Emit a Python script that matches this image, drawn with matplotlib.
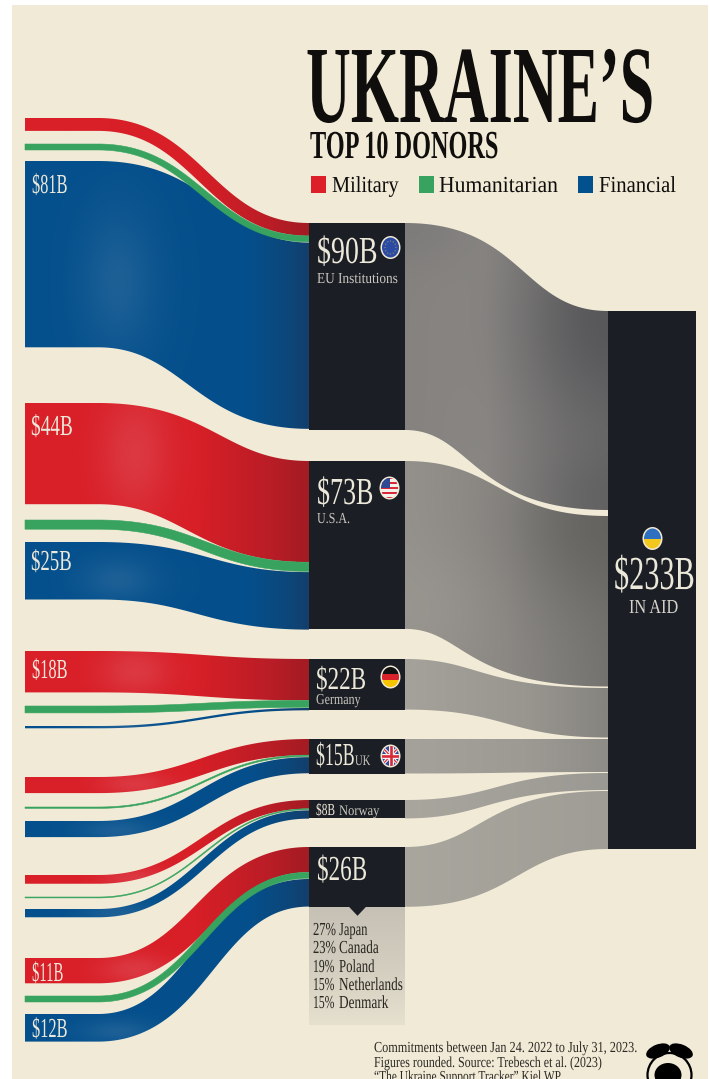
import numpy as np
import matplotlib
matplotlib.use('Agg')
import matplotlib.pyplot as plt
from matplotlib.colors import LinearSegmentedColormap, to_rgb
from matplotlib.font_manager import FontProperties
from matplotlib.patches import Ellipse, PathPatch, Polygon, Rectangle
from matplotlib.path import Path
from matplotlib.patheffects import AbstractPathEffect
from matplotlib.text import Text
from matplotlib.textpath import TextPath
from matplotlib.transforms import Affine2D, Bbox

# values in $B
donors = ["EU Institutions", "U.S.A.", "Germany", "UK", "Norway", "Others"]
totals = [90, 73, 22, 15, 8, 26]
military = [5.6, 44, 18, 7, 3.8, 11]
humanitarian = [2.6, 4, 3, 0.6, 0.4, 2.6]
financial = [81, 25, 1, 7, 3.6, 12]
grand_total = 233
others_names = ["Japan", "Canada", "Poland", "Netherlands", "Denmark"]
others_share = [27, 23, 19, 15, 15]

# layout, in pixels of the 710x1079 picture
PX_PER_B = 2.3
box_tops = [223, 461, 659, 739, 800, 847]
red_tops = [118, 403, 651, 777, 875, 958]
green_tops = [144, 520, 706, 807, 897, 996]
blue_tops = [161, 542, 726, 821, 909, 1014]
sink_tops = [311, 516, 688, 739, 773, 791]
sink_bottoms = [510, 686.5, 737.5, 772, 790, 849]
# sideways shift of the grey edges' bends
sink_lean_top = [16, -8, -28, 0, -10, -25]
sink_lean_bot = [-35, -43, 0, 0, -20, 10]

BG = '#f1ead7'
BOX = '#1b1e24'
INK = '#0f0e0c'
PALE = '#ece8da'
RED = '#dd1f2a'
GREEN = '#38a35f'
BLUE = '#03508f'
CAP_RATIO = 0.655

red_stops = [(0, '#da1f28'), (.6, '#d81f27'), (.88, '#b81d26'), (1, '#a31b23')]
blue_stops = [(0, '#04508d'), (.8, '#054f8b'), (.95, '#0e4577'), (1, '#123f6c')]
grey_stops = [
    [(0, '#85827f'), (.4, '#8a8784'), (1, '#727170')],
    [(0, '#94918c'), (.5, '#8b8884'), (1, '#747370')],
    [(0, '#a5a29b'), (.6, '#999690'), (1, '#86847f')],
    [(0, '#a5a29b'), (.6, '#9d9a94'), (1, '#8f8d88')],
    [(0, '#a9a69e'), (1, '#9b9993')],
    [(0, '#a9a69e'), (1, '#a09d96')],
]
grey_shades = [
    [(612, 320, 85, 110, '#58585b', 1.0), (612, 500, 70, 60, '#5f5f60', .8), (410, 225, 60, 40, '#7b7a79', .7)],
    [(612, 525, 90, 80, '#63625f', .9), (410, 610, 70, 60, '#9a9791', .7)],
    [], [], [], [],
]


class Squeeze(AbstractPathEffect):
    # the reference uses a condensed didone, so narrow the glyphs when drawn
    def __init__(self, sx):
        super().__init__()
        self.sx = sx

    def draw_path(self, renderer, gc, tpath, affine, rgbFace=None):
        renderer.draw_path(gc, tpath, Affine2D().scale(self.sx, 1) + affine, rgbFace)


class SqueezedText(Text):
    # reports the narrowed box, not the natural one
    def __init__(self, *args, sx=1.0, **kwargs):
        super().__init__(*args, **kwargs)
        self.sx = sx
        self.set_path_effects([Squeeze(sx)])

    def get_window_extent(self, renderer=None, dpi=None):
        bb = super().get_window_extent(renderer, dpi)
        return Bbox.from_bounds(bb.x0, bb.y0, bb.width * self.sx, bb.height)


fig = plt.figure(figsize=(7.1, 10.79), dpi=100, facecolor='white')
ax = fig.add_axes([0, 0, 1, 1])
ax.set_axis_off()


def label(x, base, s, width, cap, color=INK, weight='normal'):
    em = cap / CAP_RATIO
    prop = FontProperties(family='Liberation Serif', weight=weight)
    natural = TextPath((0, 0), s, size=em, prop=prop).get_extents().width
    ax.add_artist(SqueezedText(x, base, s, sx=width / natural, fontsize=em * 0.72, family='Liberation Serif',
                               weight=weight, color=color, ha='left', va='baseline', zorder=10))


def edge_curve(x_start, x_end, y0, y1, pull, lean=0.0):
    t = np.linspace(0, 1, 160)
    d = (x_end - x_start) * pull
    xs = np.array([x_start, x_start + d + lean, x_end - d + lean, x_end])
    ys = np.array([y0, y0, y1, y1])
    b = np.array([(1 - t) ** 3, 3 * t * (1 - t) ** 2, 3 * t ** 2 * (1 - t), t ** 3])
    return b.T @ xs, b.T @ ys, t


def band_path(x_flat, x_start, x_end, y0a, y0b, y1a, y1b, pull=0.47, thin=False, lean=(0, 0)):
    if thin:
        # centre line, thickened on the slope so thin bands do not pinch
        x, y, t = edge_curve(x_start, x_end, (y0a + y0b) / 2, (y1a + y1b) / 2, pull)
        half = ((y0b - y0a) * (1 - t) + (y1b - y1a) * t) / 2 * np.sqrt(1 + np.gradient(y, x) ** 2)
        top = np.column_stack([x, y - half])
        bot = np.column_stack([x, y + half])[::-1]
    else:
        xa, ya, _ = edge_curve(x_start, x_end, y0a, y1a, pull, lean[0])
        xb, yb, _ = edge_curve(x_start, x_end, y0b, y1b, pull, lean[1])
        top = np.column_stack([xa, ya])
        bot = np.column_stack([xb, yb])[::-1]
    verts = np.vstack([[(x_flat, y0a)], top, bot, [(x_flat, y0b)], [(x_flat, y0a)]])
    return Path(verts, closed=True)


def wide_lean(y0, y1):
    # wide bands: the outer edge of a bend runs later than the inner one
    e = 14 * np.sign(y1 - y0) * min(1, abs(y1 - y0) / 50)
    return e, -e


def shaded_fill(path, stops, x0, x1, blobs=(), z=3.0):
    ext = path.get_extents()
    y0, y1 = ext.y0 - 1, ext.y1 + 1
    cmap = LinearSegmentedColormap.from_list('band', stops)
    xx = np.linspace(x0, x1, 260)
    yy = np.linspace(y0, y1, max(int((y1 - y0) / 2), 3))
    X, Y = np.meshgrid(xx, yy)
    rgb = cmap(np.linspace(0, 1, 260))[:, :3][None, :, :].repeat(len(yy), axis=0)
    for cx, cy, rx, ry, col, strength in blobs:
        w = strength * np.exp(-((X - cx) / rx) ** 2 - ((Y - cy) / ry) ** 2)
        rgb = rgb * (1 - w[..., None]) + np.array(to_rgb(col)) * w[..., None]
    im = ax.imshow(rgb, extent=(x0, x1, y1, y0), aspect='auto', interpolation='bilinear', zorder=z)
    im.set_clip_path(PathPatch(path, transform=ax.transData))


ax.add_patch(Rectangle((12, 5), 696, 1074, color=BG, lw=0, zorder=0))

# flows from the three aid types into each donor box
for i in range(len(donors)):
    top = box_tops[i]
    r_h = military[i] * PX_PER_B
    g_h = humanitarian[i] * PX_PER_B
    b_h = financial[i] * PX_PER_B
    mid_a = top + r_h
    mid_b = mid_a + g_h
    low_a = mid_b + 0.7

    p = band_path(25, 98, 309, blue_tops[i], blue_tops[i] + b_h, low_a, low_a + b_h, thin=b_h < 70,
                  lean=wide_lean(blue_tops[i], low_a))
    shaded_fill(p, blue_stops, 25, 309, [(118, blue_tops[i] + b_h * .65, 38, max(b_h * .4, 12), '#246599', .75)], z=3)
    p = band_path(25, 98, 309, red_tops[i], red_tops[i] + r_h, top, mid_a, thin=r_h < 70,
                  lean=wide_lean(red_tops[i], top))
    glow = [] if i == 0 else [(135, red_tops[i] + r_h * .5, 35, max(r_h * .6, 12), '#dc3a44', .95)]
    shaded_fill(p, red_stops, 25, 309, glow, z=3.2)
    p = band_path(25, 98, 309, green_tops[i], green_tops[i] + g_h, mid_a, mid_b, thin=True)
    ax.add_patch(PathPatch(p, fc=GREEN, ec=GREEN, lw=0.4, zorder=3.4))

    # grey flow on to the total
    p = band_path(405, 405, 608, top, top + totals[i] * PX_PER_B, sink_tops[i], sink_bottoms[i], pull=0.5,
                  lean=(sink_lean_top[i], sink_lean_bot[i]))
    shaded_fill(p, grey_stops[i], 405, 608, grey_shades[i], z=2)
    ax.add_patch(Rectangle((309, top), 96, totals[i] * PX_PER_B, color=BOX, lw=0, zorder=5))

ax.add_patch(Rectangle((608, sink_tops[0]), 88, sink_bottoms[-1] - sink_tops[0], color=BOX, lw=0, zorder=5))

# panel that breaks up the "others" box
panel_top = box_tops[5] + totals[5] * PX_PER_B
panel_ramp = LinearSegmentedColormap.from_list('panel', ['#c6c1b5', '#d3cdbf', '#e6e0cf'])(np.linspace(0, 1, 120))
ax.imshow(panel_ramp[:, None, :], extent=(309, 405, 1025, panel_top), aspect='auto', interpolation='bilinear', zorder=2)
ax.add_patch(Polygon([(349, panel_top), (366, panel_top), (357.5, panel_top + 9)], color=BOX, lw=0, zorder=6))

# title and legend
label(306, 122, "UKRAINE\u2019S", 344, 72, weight='bold')
label(310, 158, "TOP 10 DONORS", 187, 26, weight='bold')
legend_items = [("Military", RED, 311, 332, 66), ("Humanitarian", GREEN, 419, 439, 118), ("Financial", BLUE, 578, 599, 76)]
for name, col, sq_x, tx, tw in legend_items:
    ax.add_patch(Rectangle((sq_x, 176), 15, 17, color=col, lw=0, zorder=6))
    label(tx, 192, name, tw, 15)

# band amounts
label(32, 193, f"${financial[0]}B", 34, 18, PALE)
label(31, 435, f"${military[1]}B", 40, 19, PALE)
label(31, 570, f"${financial[1]}B", 39, 19, PALE)
label(32, 678, f"${military[2]}B", 34, 18, PALE)
label(32, 981, f"${military[5]}B", 30, 18, PALE)
label(32, 1037, f"${financial[5]}B", 34, 18, PALE)

# box labels
label(317, 263, f"${totals[0]}B", 58, 25, PALE)
label(317, 283, donors[0], 80, 10, '#c9c7bf')
label(317, 504, f"${totals[1]}B", 54, 25, PALE)
label(317, 523, donors[1], 32, 10, '#c9c7bf')
label(316, 689, f"${totals[2]}B", 48, 21, PALE)
label(316, 704, donors[2], 44, 10, '#c9c7bf')
label(316, 765, f"${totals[3]}B", 37, 21, PALE)
label(355, 765, donors[3], 15, 9.5, '#c9c7bf')
label(316, 815, f"${totals[4]}B", 18, 11, PALE)
label(339, 815, donors[4], 40, 9.5, '#c9c7bf')
label(317, 880, f"${totals[5]}B", 48, 23, PALE)
label(614, 589, f"${grand_total}B", 78, 31, PALE)
label(629, 613, "IN AID", 48, 13, '#d5d3cb')

# breakdown of the others
name_w = [28, 39, 35, 63, 49]
pct_w = [22, 22, 20, 20, 20]
for j, base in enumerate([935, 953, 972, 990, 1008]):
    label(313, base, f"{others_share[j]}%", pct_w[j], 12, '#26251f')
    label(339, base, others_names[j], name_w[j], 12, '#26251f')

# footnote
label(374, 1052, "Commitments between Jan 24. 2022 to July 31, 2023.", 262, 10, '#2a2924')
label(374, 1067, "Figures rounded. Source: Trebesch et al. (2023)", 227, 10, '#2a2924')
label(374, 1081, "\u201cThe Ukraine Support Tracker\u201d Kiel WP", 186, 10, '#2a2924')


# round flags
def flag(cx, cy, rx=10, ry=11.5):
    ax.add_patch(Ellipse((cx, cy), 2 * rx, 2 * ry, fc='#f1ead7', ec='none', zorder=7))
    return Ellipse((cx, cy), 2 * rx - 3, 2 * ry - 3, transform=ax.transData)


def clipped(patch, clip):
    patch.set_zorder(8)
    ax.add_patch(patch)
    patch.set_clip_path(clip)


clip = flag(390.5, 247.5)
clipped(Rectangle((380, 236), 21, 23, color='#2b4aa3', lw=0), clip)
for a in np.deg2rad(np.arange(0, 360, 30)):
    ax.add_patch(Ellipse((390.5 + 5.5 * np.cos(a), 247.5 + 6.5 * np.sin(a)), 1.3, 1.3, color='#8d8f6a', lw=0, zorder=9))

clip = flag(389.5, 488)
for k in range(9):
    clipped(Rectangle((379, 476.5 + k * 2.55), 21, 2.55, color='#d8283a' if k % 2 == 0 else '#f4f1ea', lw=0), clip)
clipped(Rectangle((379, 476.5), 11, 11, color='#2f4a92', lw=0), clip)

clip = flag(390.5, 677)
for k, col in enumerate(['#111111', '#d8232a', '#f6c500']):
    clipped(Rectangle((380, 667 + k * 6.7), 21, 6.7, color=col, lw=0), clip)

clip = flag(390.5, 756)
clipped(Rectangle((380, 745), 21, 22, color='#2f4a9a', lw=0), clip)
for (xa, ya, xb, yb), w, col in [((381, 746, 400, 766), 3.4, '#f4f1ea'), ((381, 766, 400, 746), 3.4, '#f4f1ea'),
                                 ((381, 746, 400, 766), 1.2, '#d8283a'), ((381, 766, 400, 746), 1.2, '#d8283a'),
                                 ((390.5, 745, 390.5, 767), 5, '#f4f1ea'), ((380, 756, 401, 756), 5, '#f4f1ea'),
                                 ((390.5, 745, 390.5, 767), 2.6, '#d8283a'), ((380, 756, 401, 756), 2.6, '#d8283a')]:
    line, = ax.plot([xa, xb], [ya, yb], color=col, lw=w * 0.72, zorder=8, solid_capstyle='butt')
    line.set_clip_path(clip)

clip = flag(652.5, 538.5)
clipped(Rectangle((642, 527), 21, 11.5, color='#2f6fc0', lw=0), clip)
clipped(Rectangle((642, 538.5), 21, 11.5, color='#f2c81e', lw=0), clip)

# logo, cut by the bottom edge
ax.add_patch(Ellipse((669.5, 1075), 44, 44, fc='none', ec='black', lw=1.6, zorder=6))
ax.add_patch(Ellipse((658, 1051), 25, 13, angle=-22, fc='black', lw=0, zorder=6))
ax.add_patch(Ellipse((681, 1051), 25, 13, angle=22, fc='black', lw=0, zorder=6))
ax.add_patch(Ellipse((668, 1075), 27, 24, fc='black', lw=0, zorder=6))

ax.set_xlim(0, 710)
ax.set_ylim(1079, 0)
fig.savefig('out.png', dpi=100, facecolor='white')
